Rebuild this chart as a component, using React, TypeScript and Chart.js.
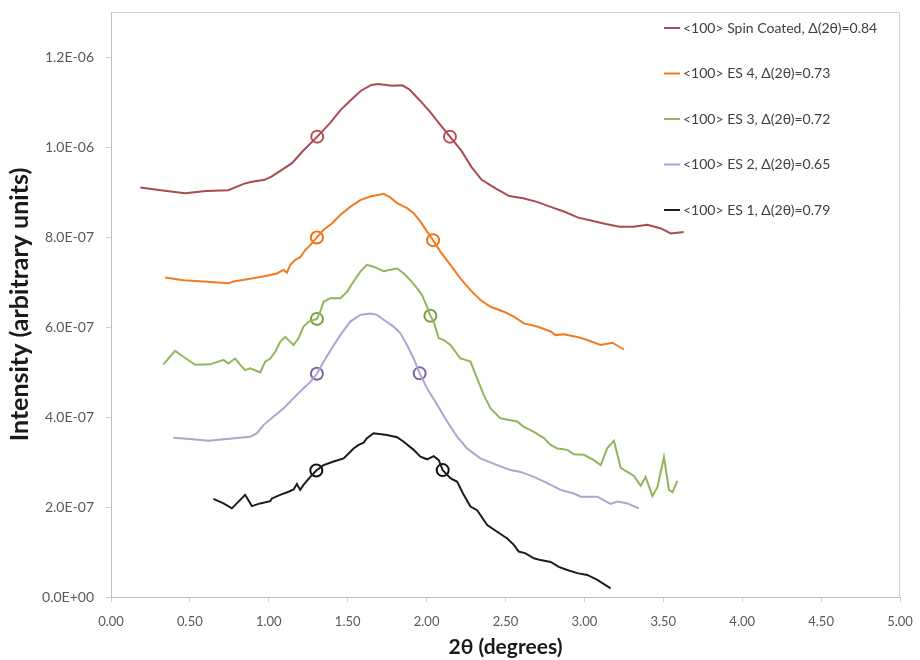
import React, { useEffect, useRef } from 'react';
import { Chart, registerables } from 'chart.js';

Chart.register(...registerables);

// y values are in units of 1e-6 (arbitrary intensity units)
const UNIT = 1e-6;

const seriesLabels = [
  '<100> Spin Coated, \u0394(2\u03b8)=0.84',
  '<100> ES 4, \u0394(2\u03b8)=0.73',
  '<100> ES 3, \u0394(2\u03b8)=0.72',
  '<100> ES 2, \u0394(2\u03b8)=0.65',
  '<100> ES 1, \u0394(2\u03b8)=0.79',
];

const lineColors = ['#a94b50', '#f27b22', '#93b55a', '#aaa5d2', '#1c1c1c'];
const markerColors = ['#c0504d', '#f07118', '#78a33c', '#8064a2', '#111111'];

const spinX = [0.186, 0.339, 0.470, 0.602, 0.743, 0.841, 0.885, 0.973, 1.017, 1.082, 1.147, 1.213, 1.307, 1.388, 1.454, 1.519, 1.584, 1.650, 1.694, 1.781, 1.846, 1.890, 1.956, 2.022, 2.087, 2.148, 2.218, 2.284, 2.349, 2.437, 2.524, 2.612, 2.699, 2.786, 2.874, 2.961, 3.048, 3.136, 3.223, 3.311, 3.398, 3.485, 3.547, 3.629];
const spinY = [0.910, 0.903, 0.897, 0.902, 0.904, 0.918, 0.922, 0.927, 0.934, 0.949, 0.964, 0.990, 1.023, 1.053, 1.082, 1.104, 1.125, 1.138, 1.140, 1.136, 1.137, 1.128, 1.104, 1.078, 1.049, 1.023, 0.993, 0.956, 0.927, 0.908, 0.891, 0.886, 0.878, 0.867, 0.856, 0.843, 0.836, 0.829, 0.823, 0.823, 0.827, 0.819, 0.808, 0.811];

const es4X = [0.343, 0.459, 0.586, 0.744, 0.776, 0.882, 0.988, 1.051, 1.093, 1.115, 1.136, 1.167, 1.199, 1.231, 1.263, 1.305, 1.347, 1.400, 1.453, 1.516, 1.580, 1.643, 1.728, 1.770, 1.813, 1.876, 1.918, 1.961, 2.003, 2.041, 2.088, 2.151, 2.214, 2.278, 2.341, 2.405, 2.489, 2.553, 2.616, 2.701, 2.786, 2.817, 2.870, 2.955, 3.018, 3.103, 3.177, 3.251];
const es4Y = [0.710, 0.704, 0.701, 0.697, 0.701, 0.707, 0.714, 0.719, 0.727, 0.721, 0.738, 0.749, 0.755, 0.771, 0.782, 0.799, 0.816, 0.830, 0.849, 0.867, 0.882, 0.890, 0.896, 0.888, 0.875, 0.864, 0.853, 0.834, 0.812, 0.793, 0.767, 0.738, 0.708, 0.682, 0.660, 0.645, 0.634, 0.623, 0.608, 0.601, 0.590, 0.582, 0.584, 0.578, 0.571, 0.560, 0.565, 0.550];

const es3X = [0.332, 0.406, 0.459, 0.533, 0.628, 0.713, 0.744, 0.787, 0.819, 0.850, 0.882, 0.945, 0.977, 1.009, 1.041, 1.072, 1.104, 1.136, 1.157, 1.188, 1.220, 1.252, 1.305, 1.326, 1.347, 1.390, 1.453, 1.496, 1.537, 1.580, 1.622, 1.664, 1.728, 1.770, 1.813, 1.855, 1.897, 1.940, 1.971, 2.003, 2.024, 2.045, 2.077, 2.109, 2.151, 2.183, 2.214, 2.246, 2.278, 2.320, 2.362, 2.405, 2.468, 2.532, 2.574, 2.616, 2.680, 2.743, 2.786, 2.828, 2.892, 2.933, 2.997, 3.060, 3.103, 3.145, 3.187, 3.230, 3.272, 3.314, 3.357, 3.388, 3.431, 3.463, 3.504, 3.536, 3.558, 3.589];
const es3Y = [0.517, 0.547, 0.534, 0.516, 0.517, 0.527, 0.519, 0.530, 0.516, 0.504, 0.508, 0.499, 0.523, 0.530, 0.545, 0.567, 0.578, 0.567, 0.560, 0.575, 0.601, 0.612, 0.618, 0.634, 0.656, 0.664, 0.664, 0.678, 0.701, 0.723, 0.738, 0.734, 0.724, 0.727, 0.730, 0.719, 0.704, 0.686, 0.671, 0.645, 0.625, 0.612, 0.575, 0.571, 0.560, 0.545, 0.530, 0.527, 0.523, 0.486, 0.449, 0.419, 0.397, 0.393, 0.390, 0.378, 0.367, 0.353, 0.338, 0.330, 0.327, 0.317, 0.316, 0.304, 0.293, 0.331, 0.347, 0.287, 0.278, 0.269, 0.247, 0.267, 0.224, 0.244, 0.311, 0.238, 0.233, 0.258];

const es2X = [0.395, 0.501, 0.617, 0.734, 0.882, 0.925, 0.966, 1.030, 1.093, 1.157, 1.220, 1.263, 1.305, 1.347, 1.400, 1.453, 1.516, 1.580, 1.643, 1.686, 1.728, 1.791, 1.834, 1.876, 1.918, 1.956, 2.003, 2.067, 2.130, 2.194, 2.257, 2.341, 2.447, 2.532, 2.595, 2.680, 2.765, 2.849, 2.933, 2.976, 3.082, 3.166, 3.209, 3.272, 3.346];
const es2Y = [0.354, 0.351, 0.347, 0.351, 0.356, 0.364, 0.382, 0.401, 0.419, 0.442, 0.464, 0.478, 0.496, 0.523, 0.553, 0.582, 0.612, 0.627, 0.630, 0.627, 0.616, 0.601, 0.586, 0.560, 0.530, 0.497, 0.464, 0.427, 0.390, 0.356, 0.330, 0.308, 0.293, 0.282, 0.278, 0.267, 0.253, 0.238, 0.230, 0.223, 0.223, 0.207, 0.212, 0.208, 0.197];

const es1X = [0.649, 0.713, 0.766, 0.808, 0.850, 0.893, 0.945, 1.009, 1.020, 1.072, 1.125, 1.157, 1.178, 1.199, 1.220, 1.263, 1.301, 1.347, 1.411, 1.474, 1.506, 1.537, 1.569, 1.601, 1.622, 1.664, 1.749, 1.813, 1.855, 1.918, 1.961, 2.003, 2.045, 2.077, 2.102, 2.151, 2.194, 2.235, 2.278, 2.320, 2.384, 2.447, 2.511, 2.553, 2.584, 2.627, 2.680, 2.722, 2.786, 2.838, 2.892, 2.955, 3.018, 3.082, 3.166];
const es1Y = [0.218, 0.208, 0.197, 0.212, 0.227, 0.202, 0.208, 0.213, 0.219, 0.227, 0.234, 0.239, 0.251, 0.238, 0.249, 0.267, 0.281, 0.293, 0.301, 0.308, 0.319, 0.330, 0.338, 0.343, 0.353, 0.364, 0.360, 0.355, 0.345, 0.327, 0.312, 0.306, 0.313, 0.304, 0.282, 0.264, 0.256, 0.227, 0.201, 0.193, 0.160, 0.145, 0.130, 0.116, 0.101, 0.097, 0.086, 0.082, 0.078, 0.067, 0.060, 0.053, 0.049, 0.038, 0.019];

// half-maximum markers (left, right) for each series
const spinMarkX = [1.307, 2.148];
const spinMarkY = [1.023, 1.023];
const es4MarkX = [1.305, 2.041];
const es4MarkY = [0.799, 0.793];
const es3MarkX = [1.305, 2.024];
const es3MarkY = [0.618, 0.625];
const es2MarkX = [1.305, 1.956];
const es2MarkY = [0.496, 0.497];
const es1MarkX = [1.301, 2.102];
const es1MarkY = [0.281, 0.282];

const xTickMin = 0;
const xTickMax = 5;
const xTickStep = 0.5;
const yTickMax = 1.3;
const yTickStep = 0.2;

const FONT = 'Lato, "Open Sans", "DejaVu Sans", sans-serif';

const toPts = (xs: number[], ys: number[]) => xs.map((x, i) => ({ x, y: ys[i] * UNIT }));

function sciLabel(v: number): string {
  if (Math.abs(v) < 1e-15) return '0.0E+00';
  let e = Math.floor(Math.log10(Math.abs(v)) + 1e-9);
  let m = v / Math.pow(10, e);
  if (Math.abs(m) >= 9.95) { m /= 10; e += 1; }
  const sign = e < 0 ? '-' : '+';
  const ea = Math.abs(e);
  return m.toFixed(1) + 'E' + sign + (ea < 10 ? '0' + ea : String(ea));
}

const legendPlugin = {
  id: 'insideLegend',
  afterDraw(chart: any) {
    const { ctx, chartArea } = chart;
    const items = chart.data.datasets.filter((d: any) => d.inLegend);
    const x0 = chartArea.right - 236;
    const y0 = chartArea.top + 16;
    const dy = 45.5;
    ctx.save();
    items.forEach((d: any, i: number) => {
      const y = y0 + i * dy;
      ctx.strokeStyle = d.borderColor;
      ctx.lineWidth = 2;
      ctx.beginPath();
      ctx.moveTo(x0, y);
      ctx.lineTo(x0 + 16, y);
      ctx.stroke();
      ctx.fillStyle = '#404040';
      ctx.font = '14px ' + FONT;
      ctx.textAlign = 'left';
      ctx.textBaseline = 'middle';
      ctx.fillText(d.label, x0 + 19, y);
    });
    ctx.restore();
  },
};

const framePlugin = {
  id: 'plotFrame',
  beforeDatasetsDraw(chart: any) {
    const { ctx, chartArea } = chart;
    ctx.save();
    ctx.strokeStyle = '#d0d0d0';
    ctx.lineWidth = 1;
    ctx.beginPath();
    ctx.moveTo(chartArea.left, chartArea.top + 0.5);
    ctx.lineTo(chartArea.right - 0.5, chartArea.top + 0.5);
    ctx.lineTo(chartArea.right - 0.5, chartArea.bottom);
    ctx.stroke();
    ctx.restore();
  },
};

export default function App() {
  const canvasRef = useRef<HTMLCanvasElement | null>(null);

  useEffect(() => {
    if (!canvasRef.current) return;
    const lines = [
      [spinX, spinY],
      [es4X, es4Y],
      [es3X, es3Y],
      [es2X, es2Y],
      [es1X, es1Y],
    ];
    const marks = [
      [spinMarkX, spinMarkY],
      [es4MarkX, es4MarkY],
      [es3MarkX, es3MarkY],
      [es2MarkX, es2MarkY],
      [es1MarkX, es1MarkY],
    ];
    const datasets: any[] = [];
    lines.forEach((l, i) => {
      datasets.push({
        type: 'line',
        label: seriesLabels[i],
        inLegend: true,
        data: toPts(l[0], l[1]),
        borderColor: lineColors[i],
        backgroundColor: lineColors[i],
        borderWidth: 2,
        pointRadius: 0,
        tension: 0,
        fill: false,
      });
    });
    marks.forEach((m, i) => {
      datasets.push({
        type: 'line',
        label: seriesLabels[i] + ' FWHM',
        inLegend: false,
        data: toPts(m[0], m[1]),
        showLine: false,
        borderColor: markerColors[i],
        backgroundColor: 'rgba(0,0,0,0)',
        pointStyle: 'circle',
        pointRadius: 6,
        pointBorderWidth: 2,
        pointBorderColor: markerColors[i],
        pointBackgroundColor: 'rgba(0,0,0,0)',
      });
    });

    const chart = new Chart(canvasRef.current, {
      type: 'line',
      data: { datasets },
      plugins: [legendPlugin, framePlugin],
      options: {
        animation: false,
        responsive: true,
        maintainAspectRatio: false,
        layout: { padding: { top: 12, right: 20, left: 0, bottom: 0 } },
        plugins: {
          legend: { display: false },
          tooltip: { enabled: false },
        },
        scales: {
          x: {
            type: 'linear',
            min: xTickMin,
            max: xTickMax,
            afterFit: (s: any) => { s.height = 63; s.paddingLeft = 0; s.paddingRight = 0; },
            grid: { display: true, drawOnChartArea: false, drawTicks: true, tickLength: 5, color: '#d0d0d0' },
            border: { display: true, color: '#bfbfbf' },
            ticks: {
              stepSize: xTickStep,
              padding: 12,
              color: '#595959',
              font: { family: FONT, size: 13 },
              maxRotation: 0,
              callback: (v: any) => Number(v).toFixed(2),
            },
            title: {
              display: true,
              text: '2\u03b8 (degrees)',
              color: '#1a1a1a',
              font: { family: FONT, size: 21, weight: 'bold' },
              padding: { top: 0, bottom: 0 },
            },
          },
          y: {
            type: 'linear',
            min: 0,
            max: yTickMax * UNIT,
            afterFit: (s: any) => { s.width = 111; s.paddingTop = 0; s.paddingBottom = 0; },
            grid: { display: true, drawOnChartArea: false, drawTicks: true, tickLength: 5, color: '#d0d0d0' },
            border: { display: true, color: '#bfbfbf' },
            ticks: {
              stepSize: yTickStep * UNIT,
              includeBounds: false,
              padding: 12,
              color: '#595959',
              font: { family: FONT, size: 14 },
              callback: (v: any) => sciLabel(Number(v)),
            },
            title: {
              display: true,
              text: 'Intensity (arbitrary units)',
              color: '#1a1a1a',
              font: { family: FONT, size: 25, weight: 'bold' },
              padding: { top: 5, bottom: 0 },
            },
          },
        },
      } as any,
    });
    return () => chart.destroy();
  }, []);

  return (
    <div style={{ position: 'absolute', left: 0, top: 0, width: 920, height: 660, background: '#ffffff' }}>
      <canvas ref={canvasRef} />
    </div>
  );
}
